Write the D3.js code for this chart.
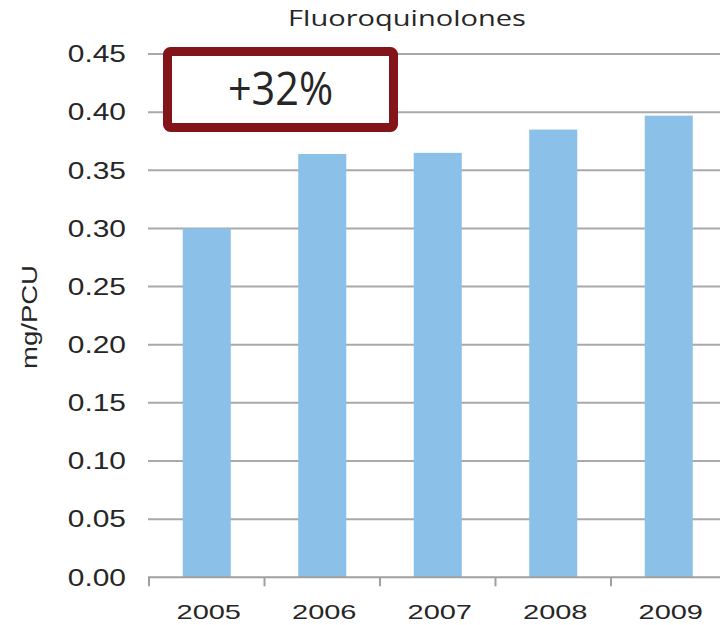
<!DOCTYPE html>
<html>
<head>
<meta charset="utf-8">
<script src="https://cdn.jsdelivr.net/npm/d3@7"></script>
<style>
  html, body { margin: 0; padding: 0; background: #fff; }
  svg { display: block; }
</style>
</head>
<body>
<div class="chart"></div>
<script>
// chart data
const years = ["2005", "2006", "2007", "2008", "2009"];
const values = [0.300, 0.364, 0.365, 0.385, 0.397];
const yTicks = [0, 0.05, 0.10, 0.15, 0.20, 0.25, 0.30, 0.35, 0.40, 0.45];
const title = "Fluoroquinolones";
const yLabel = "mg/PCU";
const changeLabel = "+32%";

const width = 720;
const height = 625;
// plot area (right side runs off the picture like the original)
const plotLeft = 149;
const step = 115.5;
const plotBottom = 577.3;
const plotTop = 54;

const svg = d3.select('.chart')
  .append('svg')
  .attr('width', width)
  .attr('height', height);

const x = d3.scaleBand()
  .domain(years)
  .range([plotLeft, plotLeft + step * years.length])
  .paddingInner(0.584)
  .paddingOuter(0.292);

const y = d3.scaleLinear()
  .domain([0, 0.45])
  .range([plotBottom, plotTop]);

// grid lines
svg.append('g')
  .selectAll('line')
  .data(yTicks.slice(1))
  .enter()
  .append('line')
  .attr('x1', plotLeft - 1)
  .attr('x2', width)
  .attr('y1', d => y(d))
  .attr('y2', d => y(d))
  .attr('stroke', '#a9a9a9')
  .attr('stroke-width', 2);

// y tick labels
svg.append('g')
  .selectAll('text')
  .data(yTicks)
  .enter()
  .append('text')
  .attr('transform', d => `translate(126, ${y(d)}) scale(1.3, 1)`)
  .attr('text-anchor', 'end')
  .attr('dy', '0.36em')
  .style('font-family', '"Liberation Sans", Arial, sans-serif')
  .style('font-size', '23px')
  .style('fill', '#262626')
  .text(d => d.toFixed(2));

// bars
svg.append('g')
  .selectAll('rect')
  .data(values)
  .enter()
  .append('rect')
  .attr('x', (d, i) => x(years[i]))
  .attr('width', x.bandwidth())
  .attr('y', d => y(d))
  .attr('height', d => y(0) - y(d))
  .attr('fill', '#8bc1e9');

// bottom axis
const xAxis = svg.append('g')
  .attr('transform', `translate(0, ${plotBottom})`);

xAxis.append('line')
  .attr('x1', plotLeft - 1)
  .attr('x2', width)
  .attr('stroke', '#a0a0a0')
  .attr('stroke-width', 2);

xAxis.selectAll('line.tick')
  .data(d3.range(years.length + 1))
  .enter()
  .append('line')
  .classed('tick', true)
  .attr('x1', d => plotLeft + d * x.step())
  .attr('x2', d => plotLeft + d * x.step())
  .attr('y1', 0)
  .attr('y2', 9)
  .attr('stroke', '#a0a0a0')
  .attr('stroke-width', 2);

xAxis.selectAll('text')
  .data(years)
  .enter()
  .append('text')
  .attr('transform', d => `translate(${x(d) + x.bandwidth() / 2 + 2}, 42) scale(1.38, 1)`)
  .attr('text-anchor', 'middle')
  .style('font-family', '"Liberation Sans", Arial, sans-serif')
  .style('font-size', '21px')
  .style('fill', '#262626')
  .text(d => d);

// y axis title
svg.append('text')
  .attr('transform', 'translate(37, 317) rotate(-90) scale(1.25, 1)')
  .attr('text-anchor', 'middle')
  .style('font-family', '"Liberation Sans", Arial, sans-serif')
  .style('font-size', '22px')
  .style('fill', '#262626')
  .text(yLabel);

// chart title
svg.append('text')
  .attr('transform', 'translate(407, 26) scale(1.32, 1)')
  .attr('text-anchor', 'middle')
  .style('font-family', '"Open Sans", sans-serif')
  .style('font-size', '22px')
  .style('fill', '#262626')
  .text(title);

// change annotation box
svg.append('rect')
  .attr('x', 167.5)
  .attr('y', 51.5)
  .attr('width', 226)
  .attr('height', 76)
  .attr('rx', 3)
  .attr('fill', '#fff')
  .attr('stroke', '#83141a')
  .attr('stroke-width', 9);

svg.append('text')
  .attr('transform', 'translate(280.5, 89) scale(0.92, 1)')
  .attr('text-anchor', 'middle')
  .attr('dy', '0.36em')
  .style('font-family', '"Open Sans", sans-serif')
  .style('font-size', '45px')
  .style('fill', '#262626')
  .text(changeLabel);
</script>
</body>
</html>
